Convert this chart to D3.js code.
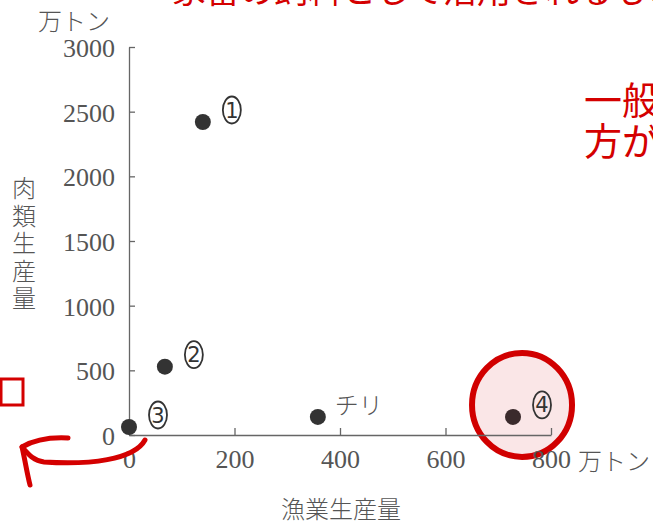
<!DOCTYPE html>
<html><head><meta charset="utf-8">
<script src="https://cdn.jsdelivr.net/npm/d3@7"></script>
<style>
html,body{margin:0;padding:0;background:#fff;}
svg{display:block;}
</style></head>
<body>
<script>
// ---- data ----
const labels = ["①", "②", "③", "チリ", "④"];
const fishery = [140, 68, 0, 358, 728];     // 漁業生産量 (万トン)
const meat = [2420, 528, 62, 140, 140];     // 肉類生産量 (万トン)
const xTicks = [0, 200, 400, 600, 800];
const yTicks = [0, 500, 1000, 1500, 2000, 2500, 3000];

const W = 653, H = 525;
const svg = d3.select("body").append("svg").attr("width", W).attr("height", H);

const x = d3.scaleLinear().domain([0, 800]).range([129, 551]);
const y = d3.scaleLinear().domain([0, 3000]).range([435, 47]);

const gray = "#555";
const serif = "'Liberation Serif','DejaVu Serif',serif";
const jp = "'Noto Sans CJK JP',sans-serif";

// red annotation: highlight circle around ④ (drawn under)
const hi = 4;
svg.append("ellipse")
  .attr("cx", x(fishery[hi]) + 9).attr("cy", y(meat[hi]) - 12)
  .attr("rx", 50).attr("ry", 52)
  .attr("fill", "rgba(215,60,70,0.13)")
  .attr("stroke", "#d10000").attr("stroke-width", 6);

// axes
const yAxis = d3.axisLeft(y).tickValues(yTicks).tickSizeInner(-6).tickSizeOuter(0).tickPadding(14)
  .tickFormat(d3.format("d"));
const gy = svg.append("g").attr("transform", `translate(${x(0)},0)`).call(yAxis);
const xAxis = d3.axisBottom(x).tickValues(xTicks).tickSizeInner(-7).tickSizeOuter(0).tickPadding(15)
  .tickFormat(d3.format("d"));
const gx = svg.append("g").attr("transform", `translate(0,${y(0)})`).call(xAxis);

[gx, gy].forEach(g => {
  g.selectAll("path.domain").attr("stroke", "#666").attr("stroke-width", 1.3);
  g.selectAll(".tick line").attr("stroke", "#666").attr("stroke-width", 1.3);
  g.selectAll(".tick text").attr("fill", gray).style("font-family", serif).style("font-size", "26px");
});
gy.selectAll(".tick text").attr("dy", "0.36em");

// unit labels
svg.append("text").attr("x", 38).attr("y", 30).text("万トン")
  .attr("fill", gray).style("font-family", jp).style("font-size", "24px").style("font-weight", 300);
svg.append("text").attr("x", 578).attr("y", 470).text("万トン")
  .attr("fill", gray).style("font-family", jp).style("font-size", "24px").style("font-weight", 300);

// axis titles
const yTitle = "肉類生産量".split("");
svg.append("g").selectAll("text").data(yTitle).join("text")
  .attr("x", 24).attr("y", (d, i) => 197 + i * 27.5)
  .attr("text-anchor", "middle")
  .text(d => d)
  .attr("fill", gray).style("font-family", jp).style("font-size", "24px").style("font-weight", 300);
svg.append("text").attr("x", 341).attr("y", 518).attr("text-anchor", "middle").text("漁業生産量")
  .attr("fill", gray).style("font-family", jp).style("font-size", "24px").style("font-weight", 300);

// points
const pts = labels.map((l, i) => ({l, fx: fishery[i], m: meat[i]}));
svg.append("g").selectAll("circle").data(pts).join("circle")
  .attr("cx", d => x(d.fx)).attr("cy", d => y(d.m)).attr("r", 8)
  .attr("fill", (d, i) => i === hi ? "#3a2a2c" : "#333");

// point labels
const lg = svg.append("g");
pts.forEach((d, i) => {
  const cx = x(d.fx), cy = y(d.m);
  if (d.l === "チリ") {
    lg.append("text").attr("x", cx + 17).attr("y", cy - 3).text(d.l)
      .attr("fill", gray).style("font-family", jp).style("font-size", "24px").style("font-weight", 300);
  } else {
    const ex = cx + 29, ey = cy - 12;
    lg.append("ellipse").attr("cx", ex).attr("cy", ey).attr("rx", 9).attr("ry", 13.5)
      .attr("fill", "none").attr("stroke", "#333").attr("stroke-width", 1.8);
    const num = {"①": "1", "②": "2", "③": "3", "④": "4"}[d.l];
    lg.append("text").attr("x", ex).attr("y", ey).attr("dy", "0.36em").attr("text-anchor", "middle")
      .text(num).attr("fill", "#333").style("font-family", "'DejaVu Sans',sans-serif").style("font-size", "21px");
  }
});

// other red handwritten annotations
const red = "#d40000";
svg.append("text").attr("x", 172).attr("y", 3).text("家畜の飼料として活用されるもの")
  .attr("fill", red).style("font-family", jp).style("font-size", "34px");
svg.append("text").attr("x", 584).attr("y", 114).text("一般")
  .attr("fill", red).style("font-family", jp).style("font-size", "38px");
svg.append("text").attr("x", 584).attr("y", 155).text("方が")
  .attr("fill", red).style("font-family", jp).style("font-size", "38px");
svg.append("rect").attr("x", 1).attr("y", 379).attr("width", 22).attr("height", 26)
  .attr("fill", "none").attr("stroke", red).attr("stroke-width", 3);
const ox = x(0), oy = y(0);
svg.append("path")
  .attr("d", `M${ox + 16},${oy + 5} C${ox + 5},${oy + 25} ${ox - 40},${oy + 30} ${ox - 85},${oy + 27} C${ox - 95},${oy + 26} ${ox - 100},${oy + 20} ${ox - 107},${oy + 12}`)
  .attr("fill", "none").attr("stroke", red).attr("stroke-width", 5).attr("stroke-linecap", "round");
svg.append("path")
  .attr("d", `M${ox - 61},${oy + 3} C${ox - 80},${oy + 2} ${ox - 95},${oy + 5} ${ox - 107},${oy + 12} C${ox - 104},${oy + 25} ${ox - 102},${oy + 38} ${ox - 99},${oy + 50}`)
  .attr("fill", "none").attr("stroke", red).attr("stroke-width", 5).attr("stroke-linecap", "round").attr("stroke-linejoin", "round");
</script>
</body></html>
